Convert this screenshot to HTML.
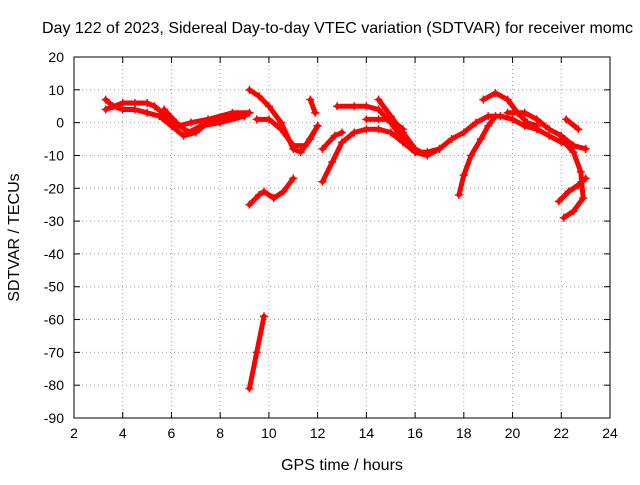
<!DOCTYPE html>
<html><head><meta charset="utf-8"><style>
body{margin:0;background:#fff;overflow:hidden}
svg{font-family:"Liberation Sans",sans-serif}
</style></head><body>
<svg width="640" height="480">
<g id="g"></g>
</svg>
<script>
const xTicks=[2,4,6,8,10,12,14,16,18,20,22,24];
const yTicks=[20,10,0,-10,-20,-30,-40,-50,-60,-70,-80,-90];
const track1=[[3.3,7],[3.6,5],[4,4],[4.5,4],[5,3],[5.5,2],[6,-1],[6.5,-4],[7,-3],[7.5,0],[8,1],[8.5,2],[9,2]];
const track2=[[3.3,4],[4,6],[4.5,6],[5,6],[5.3,5],[5.8,2],[6.3,-1],[6.8,0],[7.5,1],[8.5,3],[9.2,3]];
const track3=[[5.7,4],[6.2,0],[6.7,-3],[7.2,-1],[8,0],[9,2]];
const track4=[[9.2,10],[9.6,8],[10,5],[10.5,0],[11,-8],[11.3,-9],[11.7,-5],[12,-1]];
const track5=[[9.5,1],[10,1],[10.5,-2],[11,-7],[11.5,-7],[12,-1]];
const track6=[[11.7,7],[11.9,3]];
const track7=[[9.2,-25],[9.6,-22],[9.8,-21],[10.2,-23],[10.6,-21],[11,-17]];
const track8=[[9.2,-81],[9.5,-70],[9.8,-59]];
const track9=[[12.2,-18],[12.6,-12],[13,-6],[13.5,-3],[14,-2],[14.5,-2],[15,-3],[15.5,-6],[16,-9],[16.5,-9],[17,-8],[17.5,-5],[18,-3],[18.5,0],[19,2],[19.5,2],[20,1],[20.5,-1],[21,-2],[21.5,-4],[22,-6],[22.5,-7],[23,-8]];
const track10=[[12.2,-8],[12.7,-4],[13,-3]];
const track11=[[12.8,5],[13.5,5],[14,5],[14.5,4],[15,0],[15.5,-5],[16,-9],[16.5,-10],[17,-8]];
const track12=[[14.5,7],[15,2],[15.5,-3],[16,-8],[16.5,-10]];
const track13=[[14,1],[14.5,1],[15,1],[15.5,-2]];
const track14=[[17.8,-22],[18,-16],[18.3,-10],[18.7,-5],[19,-1],[19.3,2]];
const track15=[[18.8,7],[19.3,9],[19.8,7],[20.2,3],[20.6,0],[21,-1]];
const track16=[[19.8,3],[20.5,3],[21,1],[21.5,-2],[22,-4],[22.5,-7],[23,-8]];
const track17=[[22.2,1],[22.7,-2]];
const track18=[[21.9,-24],[22.3,-21],[22.7,-19],[23,-17]];
const track19=[[22.1,-29],[22.5,-27],[22.9,-23],[22.8,-15],[22.5,-9],[22,-5]];
const tracks=[track1,track2,track3,track4,track5,track6,track7,track8,track9,track10,track11,track12,track13,track14,track15,track16,track17,track18,track19];

const L=74,R=610,T=57,B=418;
const sx=v=>L+(v-2)/22*(R-L);
const sy=v=>T+(20-v)/110*(B-T);
const NS="http://www.w3.org/2000/svg";
const g=document.getElementById('g');
function mk(t,a,txt){const e=document.createElementNS(NS,t);for(const k in a)e.setAttribute(k,a[k]);if(txt!==undefined)e.textContent=txt;g.appendChild(e);return e;}
xTicks.forEach(v=>{const x=sx(v);
 if(v>2&&v<24){const l=mk('line',{x1:x,y1:T,x2:x,y2:B,stroke:'#a0a0a0','stroke-dasharray':'1,3'});}
 mk('line',{x1:x,y1:B,x2:x,y2:B-6,stroke:'#000'});mk('line',{x1:x,y1:T,x2:x,y2:T+6,stroke:'#000'});
 const t=mk('text',{x:x,y:B+20,'text-anchor':'middle','font-size':14},v);
 });
yTicks.forEach(v=>{const y=sy(v);
 if(v<20&&v>-90){const l=mk('line',{x1:L,y1:y,x2:R,y2:y,stroke:'#a0a0a0','stroke-dasharray':'1,3'});}
 mk('line',{x1:L,y1:y,x2:L+6,y2:y,stroke:'#000'});mk('line',{x1:R,y1:y,x2:R-6,y2:y,stroke:'#000'});
 const t=mk('text',{x:L-10,y:y+5,'text-anchor':'end','font-size':14},v);
 });
const fr=mk('rect',{x:L,y:T,width:R-L,height:B-T,fill:'none',stroke:'#000'});

tracks.forEach(tr=>{
 const p=mk('polyline',{points:tr.map(q=>sx(q[0])+','+sy(q[1])).join(' '),fill:'none',stroke:'#f00','stroke-width':5,'stroke-linejoin':'round','stroke-linecap':'round'});
 
 tr.forEach(q=>{const x=sx(q[0]),y=sy(q[1]);
  const m=mk('path',{d:`M${x-4},${y}H${x+4}M${x},${y-4}V${y+4}`,stroke:'#f00','stroke-width':1.5});
  });
});
const tt=mk('text',{x:42,y:33,'font-size':16},'Day 122 of 2023, Sidereal Day-to-day VTEC variation (SDTVAR) for receiver momc');

const xl=mk('text',{x:(L+R)/2,y:470,'text-anchor':'middle','font-size':16},'GPS time / hours');

const yl=mk('text',{x:0,y:0,'text-anchor':'middle','font-size':16,transform:`translate(19,${(T+B)/2}) rotate(-90)`},'SDTVAR / TECUs');

</script>
</body></html>
